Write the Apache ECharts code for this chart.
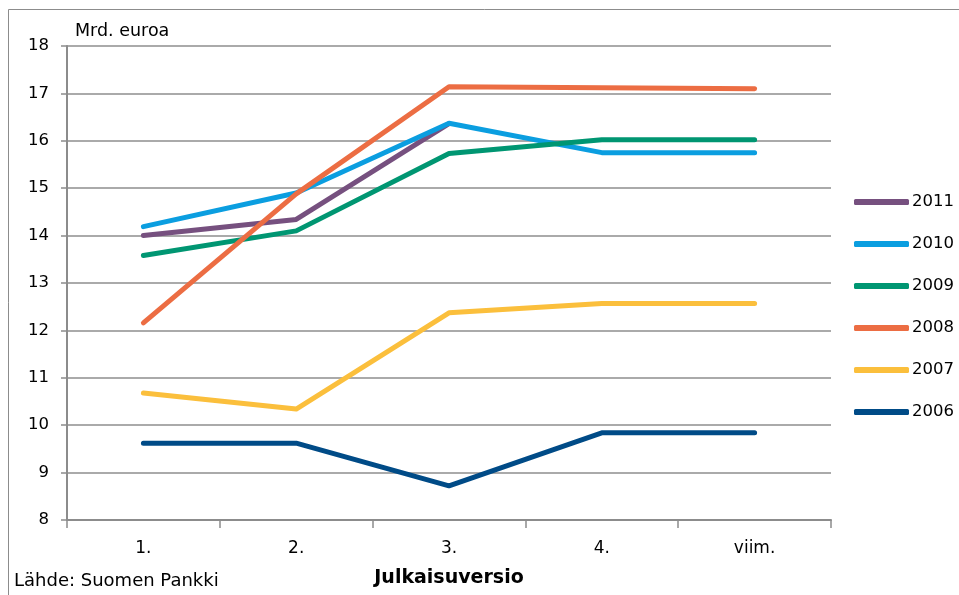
<!DOCTYPE html>
<html><head><meta charset="utf-8">
<script src="https://cdn.jsdelivr.net/npm/echarts@6/dist/echarts.min.js"></script>
<style>html,body{margin:0;padding:0;background:#fff}#c{width:959px;height:595px}</style>
</head><body><div id="c"></div>
<script>
const categories = ['1.', '2.', '3.', '4.', 'viim.'];
const seriesNames = ['2011', '2010', '2009', '2008', '2007', '2006'];
const v2011 = [14.0, 14.34, 16.36, null, null];
const v2010 = [14.19, 14.9, 16.37, 15.75, 15.75];
const v2009 = [13.58, 14.1, 15.73, 16.02, 16.02];
const v2008 = [12.16, 14.88, 17.14, 17.12, 17.1];
const v2007 = [10.68, 10.34, 12.37, 12.57, 12.57];
const v2006 = [9.62, 9.62, 8.72, 9.84, 9.84];
const values = [v2011, v2010, v2009, v2008, v2007, v2006];
const colors = ['#76507f', '#0b9ee0', '#009672', '#ec6d43', '#fbbf3c', '#004b87'];
const yMin = 8, yMax = 18, yStep = 1;

const font = '"DejaVu Sans", sans-serif';
const chart = echarts.init(document.getElementById('c'), null, {renderer: 'canvas'});
chart.setOption({
  animation: false,
  backgroundColor: '#fff',
  textStyle: {fontFamily: font},
  grid: {left: 67, right: 128, top: 46, bottom: 75, containLabel: false},
  graphic: [
    {type: 'rect', shape: {x: 8.5, y: 9.5, width: 960, height: 600}, style: {fill: 'none', stroke: '#8c8c8c', lineWidth: 1}},
    {type: 'text', left: 75, top: 22, style: {text: 'Mrd. euroa', font: '17.5px ' + font, fill: '#000'}},
    {type: 'text', left: 14, top: 572, style: {text: 'Lähde: Suomen Pankki', font: '18px ' + font, fill: '#000'}}
  ],
  legend: {
    orient: 'vertical', left: 849, top: 187, itemGap: 22,
    icon: 'roundRect', itemWidth: 55, itemHeight: 6,
    textStyle: {fontSize: 16.5, lineHeight: 20, color: '#000', fontFamily: font, padding: [0, 0, 0, -2]},
    data: seriesNames
  },
  xAxis: {
    type: 'category', data: categories, boundaryGap: true,
    name: 'Julkaisuversio', nameLocation: 'middle', nameGap: 49,
    nameTextStyle: {fontSize: 19, fontWeight: 'bold', color: '#000', fontFamily: font},
    axisLine: {lineStyle: {color: '#8c8c8c', width: 2}},
    axisTick: {show: true, alignWithLabel: false, length: 8, lineStyle: {color: '#8c8c8c', width: 1.5}},
    axisLabel: {fontSize: 17, color: '#000', margin: 20}
  },
  yAxis: {
    type: 'value', min: yMin, max: yMax, interval: yStep,
    axisLine: {show: true, lineStyle: {color: '#8c8c8c', width: 2}},
    axisTick: {show: true, length: 6, lineStyle: {color: '#8c8c8c', width: 1.5}},
    axisLabel: {fontSize: 16.5, color: '#000', margin: 18},
    splitLine: {lineStyle: {color: '#8e8e8e', width: 1.5}}
  },
  series: seriesNames.map((n, i) => ({
    name: n, type: 'line', data: values[i], symbol: 'none',
    connectNulls: false,
    lineStyle: {color: colors[i], width: 5, cap: 'round', join: 'round'},
    itemStyle: {color: colors[i]}
  }))
});
</script></body></html>
